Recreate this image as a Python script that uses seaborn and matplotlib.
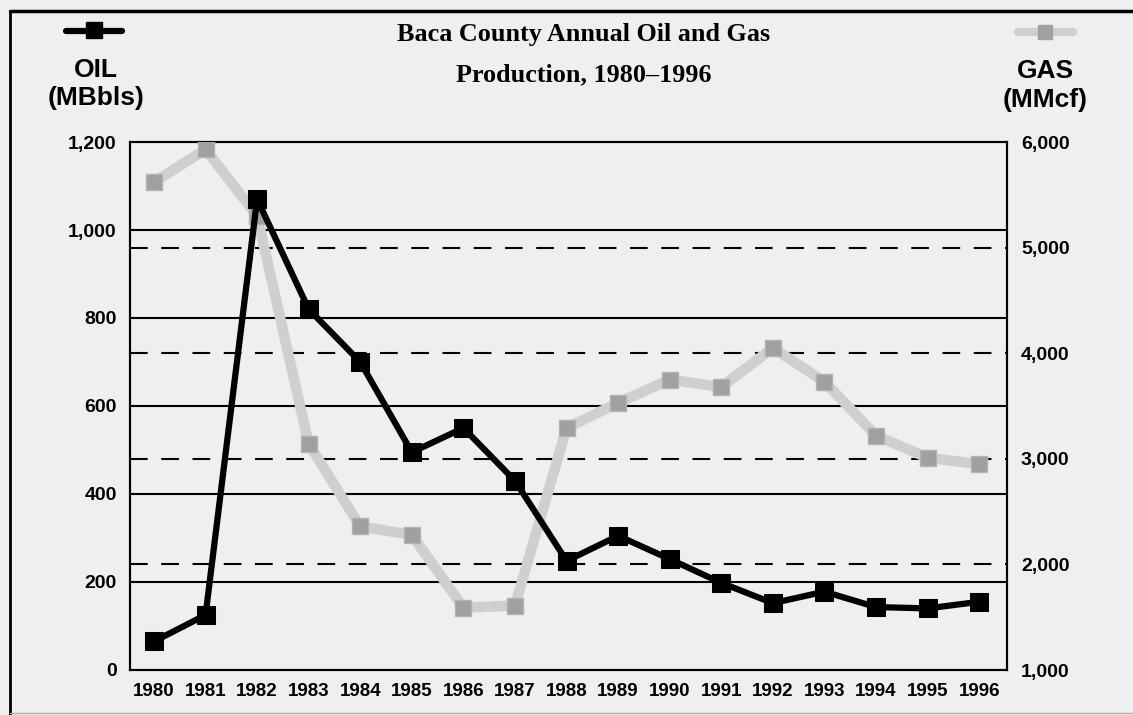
import matplotlib
matplotlib.use("Agg")
import matplotlib.pyplot as plt
from matplotlib.lines import Line2D
import seaborn as sns

# annual production
years = [1980, 1981, 1982, 1983, 1984, 1985, 1986, 1987, 1988,
         1989, 1990, 1991, 1992, 1993, 1994, 1995, 1996]
oil_mbbls = [65, 125, 1070, 820, 700, 495, 550, 430, 248,
             305, 252, 198, 152, 178, 143, 140, 155]
gas_mmcf = [5620, 5930, 5300, 3140, 2360, 2280, 1590, 1610, 3290,
            3530, 3750, 3680, 4050, 3730, 3220, 3010, 2950]

oil_ticks = [0, 200, 400, 600, 800, 1000, 1200]
gas_ticks = [1000, 2000, 3000, 4000, 5000, 6000]

bg = '#efefef'
sns.set_style("white")
plt.rcParams['font.family'] = ['Liberation Sans', 'DejaVu Sans']
plt.rcParams['text.color'] = 'black'
plt.rcParams['xtick.color'] = 'black'
plt.rcParams['ytick.color'] = 'black'

fig = plt.figure(figsize=(11.33, 7.15), dpi=100, facecolor=bg)
pos = [130/1133, 1 - 670/715, 877/1133, 528/715]
ax = fig.add_axes(pos)
ax.set_facecolor(bg)

# right axis for gas
ax2 = ax.twinx()
# top layer carries the oil line on the left scale
ax3 = fig.add_axes(pos, sharex=ax, sharey=ax)
ax3.set_axis_off()

ax.set_xlim(1979.535, 1996.54)
ax.set_ylim(0, 1200)
ax2.set_ylim(1000, 6000)

# solid grid for oil, dashed grid for gas
for v in oil_ticks[1:-1]:
    ax.axhline(v, color='black', lw=1.5, zorder=0)
for v in gas_ticks[1:-1]:
    ax2.axhline(v, color='black', lw=1.5, dashes=(8.5, 6.5), zorder=0)

sns.lineplot(x=years, y=gas_mmcf, ax=ax2, color='#cfcfcf', lw=7.5,
             marker='s', markersize=12, markerfacecolor='#a0a0a0',
             markeredgecolor='#b3b3b3', markeredgewidth=1, zorder=3)
sns.lineplot(x=years, y=oil_mbbls, ax=ax3, color='black', lw=4.5,
             marker='s', markersize=13, markerfacecolor='black',
             markeredgecolor='black', zorder=4)

ax.set_xticks(years)
ax.set_xticklabels([str(y) for y in years], fontweight='bold')
ax.set_yticks(oil_ticks)
ax.set_yticklabels([f'{v:,}' for v in oil_ticks], fontweight='bold')
ax2.set_yticks(gas_ticks)
ax2.set_yticklabels([f'{v:,}' for v in gas_ticks], fontweight='bold')

ax.tick_params(axis='x', direction='in', length=8, width=1.5, pad=9,
               labelsize=13.5)
ax.tick_params(axis='y', length=0, pad=9.5, labelsize=14)
ax2.tick_params(axis='y', length=0, pad=10, labelsize=14)
for a in (ax, ax2):
    for s in a.spines.values():
        s.set_color('black')
        s.set_linewidth(1.5)
ax.set_xlabel('')
ax.set_ylabel('')
ax2.set_ylabel('')

# title and axis headings
serif = ['Liberation Serif', 'DejaVu Serif']
fig.text(584/1133, 1 - 35/715, 'Baca County Annual Oil and Gas',
         ha='center', va='center', fontsize=18.8, fontweight='bold', family=serif)
fig.text(584/1133, 1 - 75/715, 'Production, 1980\u20131996',
         ha='center', va='center', fontsize=18.8, fontweight='bold', family=serif)
fig.text(96/1133, 1 - 70/715, 'OIL', ha='center', va='center',
         fontsize=19, fontweight='bold')
fig.text(96/1133, 1 - 98/715, '(MBbls)', ha='center', va='center',
         fontsize=19, fontweight='bold')
fig.text(1045/1133, 1 - 71/715, 'GAS', ha='center', va='center',
         fontsize=19, fontweight='bold')
fig.text(1045/1133, 1 - 100/715, '(MMcf)', ha='center', va='center',
         fontsize=19, fontweight='bold')

# small legend keys above the axis headings
fig.add_artist(Line2D([66/1133, 122/1133], [1 - 31/715, 1 - 31/715],
                      color='black', lw=4.5))
fig.add_artist(Line2D([94/1133], [1 - 30/715], marker='s', markersize=11.5,
                      color='black'))
fig.add_artist(Line2D([1018/1133, 1073/1133], [1 - 32/715, 1 - 32/715],
                      color='#cfcfcf', lw=6))
fig.add_artist(Line2D([1045/1133], [1 - 32/715], marker='s', markersize=10.5,
                      color='#a0a0a0'))

# page frame
fig.add_artist(Line2D([10/1133, 1], [1 - 11/715, 1 - 11/715], color='black', lw=2.5))
fig.add_artist(Line2D([10/1133, 10/1133], [1 - 11/715, 0], color='black', lw=2))
fig.add_artist(Line2D([10/1133, 1], [1 - 713/715, 1 - 713/715], color='#b0b0b0', lw=1))

fig.savefig('out.png', dpi=100, facecolor=bg)
